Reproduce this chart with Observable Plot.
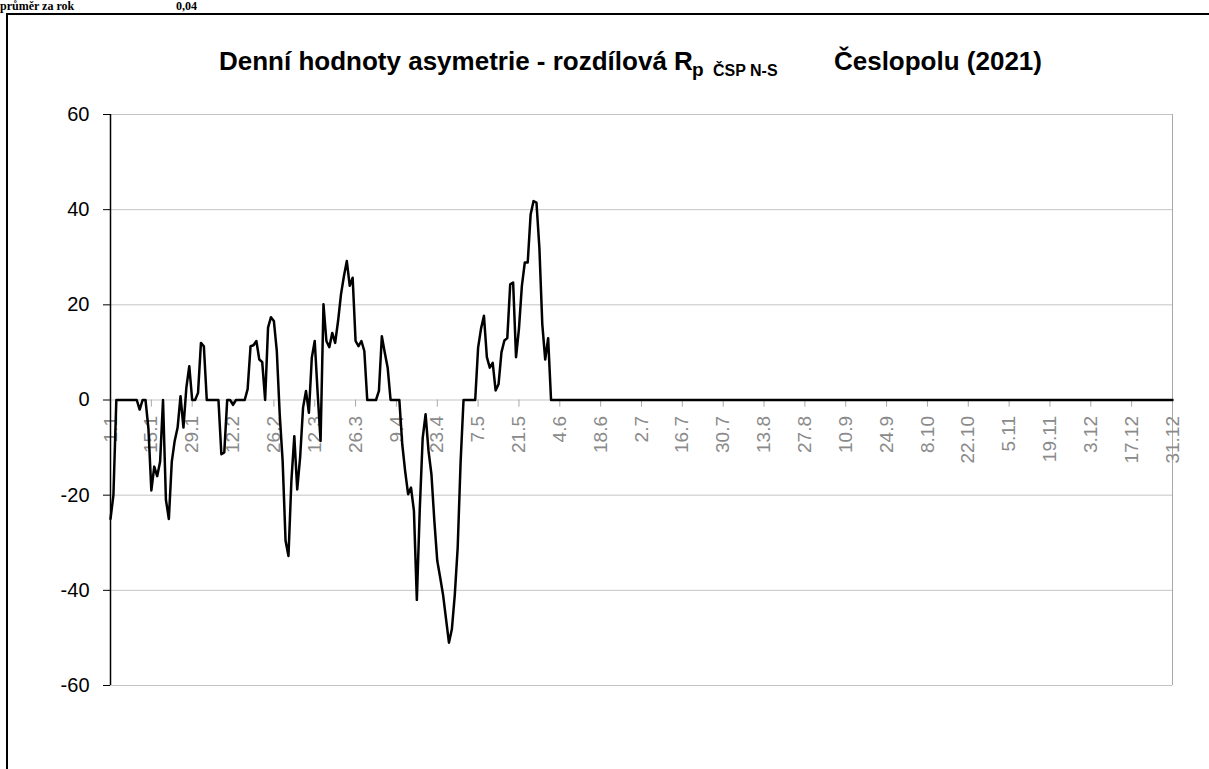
<!DOCTYPE html>
<html>
<head>
<meta charset="utf-8">
<script src="https://cdn.jsdelivr.net/npm/d3@7"></script>
<script src="https://cdn.jsdelivr.net/npm/@observablehq/plot@0.6"></script>
<style>
  body { margin: 0; background: #fff; }
  #wrap { position: relative; width: 1209px; height: 769px; overflow: hidden; background: #fff; }
  #wrap svg { position: absolute; left: 0; top: 0; }
</style>
</head>
<body>
<div id="wrap"></div>
<script>
// Daily values of the difference asymmetry (2021), index 0 = 1.1.
const values = [
  -25, -20, 0, 0, 0, 0, 0, 0, 0, 0,
  -2, 0, 0, -6, -19, -14, -16, -13, 0, -21,
  -25, -13, -8.6, -5.8, 0.8, -5.8, 2.6, 7.1, 0, 0,
  1.5, 12, 11.3, 0, 0, 0, 0, 0, -11.4, -11,
  0, 0, -1, 0, 0, 0, 0, 2.3, 11.3, 11.5,
  12.4, 8.5, 8, 0, 15.2, 17.4, 16.6, 10.3, -3, -12.8,
  -29.6, -32.8, -17, -7.6, -18.8, -12, -1.6, 1.9, -2.7, 8.9,
  12.4, 1.5, -8.6, 20.1, 12.4, 11.1, 14.1, 12, 16.6, 22.2,
  26, 29.2, 24, 25.7, 12.4, 11.3, 12.4, 10.3, 0, 0,
  0, 0, 1.9, 13.4, 10, 6.8, 0, 0, 0, 0,
  -9.3, -15, -19.8, -18.4, -23.3, -42, -23, -8, -3, -10.7,
  -15.6, -25.4, -33.8, -37.3, -41, -46, -51, -48.2, -41, -31,
  -13, 0, 0, 0, 0, 0, 11, 15, 17.7, 9,
  6.8, 7.8, 2, 3.3, 10, 12.5, 13, 24.3, 24.7, 9,
  15, 24, 28.9, 28.9, 39, 41.8, 41.5, 32, 15.9, 8.5,
  13, 0, 0, 0, 0, 0, 0, 0, 0, 0,
  0, 0, 0, 0, 0, 0, 0, 0, 0, 0,
  0, 0, 0, 0, 0, 0, 0, 0, 0, 0,
  0, 0, 0, 0, 0, 0, 0, 0, 0, 0,
  0, 0, 0, 0, 0, 0, 0, 0, 0, 0,
  0, 0, 0, 0, 0, 0, 0, 0, 0, 0,
  0, 0, 0, 0, 0, 0, 0, 0, 0, 0,
  0, 0, 0, 0, 0, 0, 0, 0, 0, 0,
  0, 0, 0, 0, 0, 0, 0, 0, 0, 0,
  0, 0, 0, 0, 0, 0, 0, 0, 0, 0,
  0, 0, 0, 0, 0, 0, 0, 0, 0, 0,
  0, 0, 0, 0, 0, 0, 0, 0, 0, 0,
  0, 0, 0, 0, 0, 0, 0, 0, 0, 0,
  0, 0, 0, 0, 0, 0, 0, 0, 0, 0,
  0, 0, 0, 0, 0, 0, 0, 0, 0, 0,
  0, 0, 0, 0, 0, 0, 0, 0, 0, 0,
  0, 0, 0, 0, 0, 0, 0, 0, 0, 0,
  0, 0, 0, 0, 0, 0, 0, 0, 0, 0,
  0, 0, 0, 0, 0, 0, 0, 0, 0, 0,
  0, 0, 0, 0, 0, 0, 0, 0, 0, 0,
  0, 0, 0, 0, 0, 0, 0, 0, 0, 0,
  0, 0, 0, 0, 0
];

const tickDays = [0, 14, 28, 42, 56, 70, 84, 98, 112, 126, 140, 154, 168, 182, 196, 210, 224, 238, 252, 266, 280, 294, 308, 322, 336, 350, 364];
const tickLabels = ["1.1", "15.1", "29.1", "12.2", "26.2", "12.3", "26.3", "9.4", "23.4", "7.5", "21.5", "4.6", "18.6", "2.7", "16.7", "30.7", "13.8", "27.8", "10.9", "24.9", "8.10", "22.10", "5.11", "19.11", "3.12", "17.12", "31.12"];
const yTicks = [-60, -40, -20, 0, 20, 40, 60];

const data = values.map((v, i) => ({day: i, value: v}));
const xTicks = tickDays.map((d, i) => ({day: d, label: tickLabels[i]}));

const chart = Plot.plot({
  width: 1209,
  height: 769,
  marginLeft: 110,
  marginRight: 37,
  marginTop: 114,
  marginBottom: 84,
  x: {domain: [0, 364], axis: null},
  y: {domain: [-60, 60], axis: null},
  style: {fontFamily: "'Liberation Sans', Arial, sans-serif", background: "white", overflow: "visible"},
  marks: [
    Plot.gridY(yTicks, {stroke: "#c4c4c4", strokeOpacity: 1, strokeWidth: 1}),
    Plot.ruleX([364], {stroke: "#a8a8a8", strokeWidth: 1}),
    Plot.ruleX(xTicks, {x: "day", y1: 0, y2: -1.5, stroke: "#a8a8a8"}),
    Plot.text(xTicks, {x: "day", y: 0, text: "label", rotate: -90, textAnchor: "end", dy: 16, fill: "#8a8a8a", fontSize: 19}),
    Plot.axisY(yTicks, {label: null, tickSize: 7, tickPadding: 14, fontSize: 20, tickFormat: d => String(d), stroke: "black", fill: "black"}),
    Plot.ruleX([0], {stroke: "black", strokeWidth: 1.5}),
    Plot.line(data, {x: "day", y: "value", stroke: "black", strokeWidth: 2.5})
  ]
});
document.getElementById("wrap").appendChild(chart);

// Overlay: frame, top note and title
const ns = "http://www.w3.org/2000/svg";
const ov = document.createElementNS(ns, "svg");
ov.setAttribute("width", 1209);
ov.setAttribute("height", 769);
ov.style.pointerEvents = "none";
ov.innerHTML = `
  <path d="M7,769 V14 H1209" fill="none" stroke="black" stroke-width="2"/>
  <text x="0" y="10" font-family="'Liberation Serif', 'DejaVu Serif', serif" font-weight="bold" font-size="12">průměr za rok</text>
  <text x="176" y="10" font-family="'Liberation Serif', 'DejaVu Serif', serif" font-weight="bold" font-size="12">0,04</text>
  <g font-family="'Liberation Sans', Arial, sans-serif" font-weight="bold" fill="black">
    <text x="219" y="70" font-size="26">Denní hodnoty asymetrie - rozdílová R</text>
    <text x="692" y="76" font-size="19">p</text>
    <text x="713" y="76" font-size="16">ČSP N-S</text>
    <text x="1042" y="70" font-size="26" text-anchor="end">Česlopolu (2021)</text>
  </g>
`;
document.getElementById("wrap").appendChild(ov);
</script>
</body>
</html>
